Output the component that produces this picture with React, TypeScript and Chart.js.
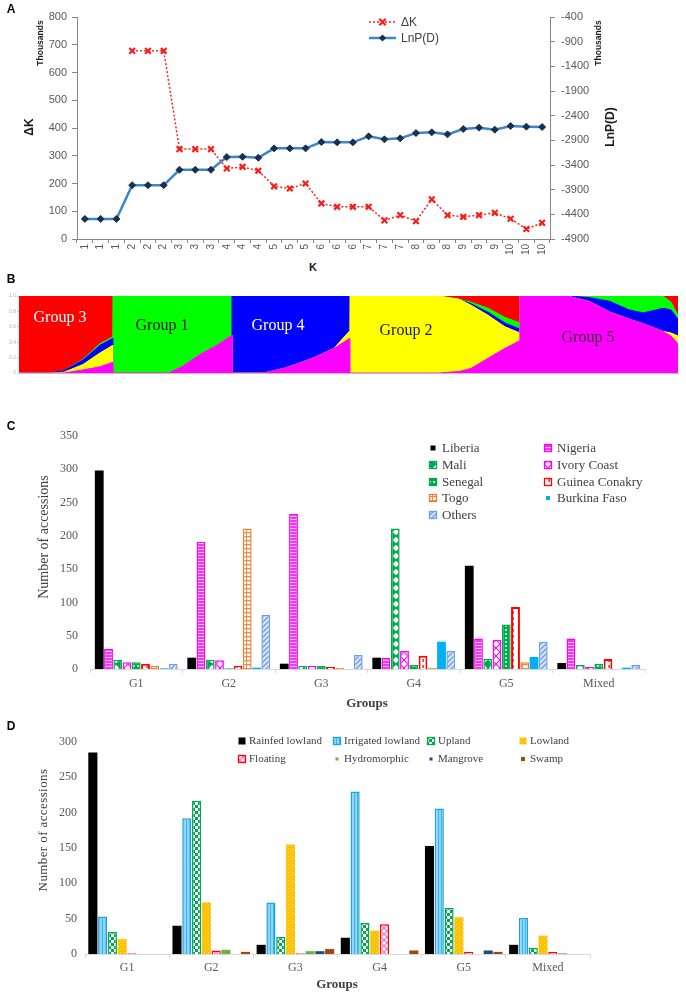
import React, { useEffect, useRef } from 'react';
import { Chart, registerables } from 'chart.js';
Chart.register(...registerables);

// ---------------- Panel A data ----------------
const kLabels = ['1','1','1','2','2','2','3','3','3','4','4','4','5','5','5','6','6','6','7','7','7','8','8','8','9','9','9','10','10','10'];
const deltaK = [null,null,null,678,678,678,324,324,324,254,260,246,190,182,200,128,116,116,116,67,86,64,143,86,80,86,94,73,36,58];
const lnPD = [-4493,-4493,-4493,-3809,-3809,-3809,-3497,-3497,-3497,-3240,-3233,-3253,-3063,-3063,-3063,-2935,-2941,-2941,-2819,-2880,-2860,-2752,-2738,-2779,-2670,-2643,-2684,-2609,-2623,-2630];
const deltaKTicks = [0,100,200,300,400,500,600,700,800];
const lnPTicks = [-4900,-4400,-3900,-3400,-2900,-2400,-1900,-1400,-900,-400];

// ---------------- Panel B data (membership fractions, bottom -> top) ----------------
const structX = [0,30,45,64,81,93.9, 94,150,164,181,198,212.9, 213,245,265,281,297,315,330.9, 331,420,440,452,469,486,500.9, 501,548,570,591,610,624,644,652,659];
const structMagenta = [0,0,0,0.04,0.08,0.14, 0,0,0.09,0.24,0.36,0.49, 0,0,0.06,0.13,0.21,0.32,0.45, 0,0,0.02,0.06,0.19,0.32,0.42, 1,1,0.93,0.79,0.7,0.64,0.54,0.48,0.38];
const structYellow = [0,0,0.01,0.07,0.18,0.22, 0,0,0,0,0,0, 0,0,0,0,0,0,0.1, 1,1,0.94,0.82,0.56,0.28,0.1, 0,0,0,0,0,0,0,0.04,0.1];
const structBlue = [0,0,0.02,0.06,0.1,0.09, 0,0,0,0,0,0, 1,1,0.94,0.87,0.79,0.68,0.45, 0,0,0,0.02,0.04,0.05,0.05, 0,0,0.05,0.14,0.12,0.14,0.3,0.3,0.22];
const structGreen = [0,0,0,0.01,0.02,0.02, 1,1,0.91,0.76,0.64,0.51, 0,0,0,0,0,0,0, 0,0,0,0.02,0.05,0.07,0.08, 0,0,0.02,0.07,0.18,0.22,0.16,0.1,0.05];
const structRed = [1,1,0.97,0.82,0.62,0.53, 0,0,0,0,0,0, 0,0,0,0,0,0,0, 0,0,0.04,0.08,0.16,0.28,0.35, 0,0,0,0,0,0,0,0.08,0.25];
const structTicks = [0,0.2,0.4,0.6,0.8,1];

// ---------------- Panel C data ----------------
const groupLabels = ['G1','G2','G3','G4','G5','Mixed'];
const countries = ['Liberia','Nigeria','Mali','Ivory Coast','Senegal','Guinea Conakry','Togo','Burkina Faso','Others'];
const liberia = [298,17,8,17,155,9];
const nigeria = [30,191,233,17,46,46];
const mali = [14,14,5,211,15,6];
const ivoryCoast = [10,13,5,27,44,3];
const senegal = [10,1,5,6,67,8];
const guineaConakry = [8,5,3,20,93,15];
const togo = [5,211,2,2,10,0];
const burkinaFaso = [1,2,0,41,18,2];
const others = [8,81,21,27,41,6];
const countTicksC = [0,50,100,150,200,250,300,350];

// ---------------- Panel D data ----------------
const ecologies = ['Rainfed lowland','Irrigated lowland','Upland','Lowland','Floating','Hydromorphic','Mangrove','Swamp'];
const rainfedLowland = [285,40,13,23,153,13];
const irrigatedLowland = [53,192,73,230,206,51];
const upland = [31,217,24,44,65,9];
const lowland = [21,73,155,33,52,26];
const floating = [1,5,1,42,3,3];
const hydromorphic = [0,6,4,0,0,1];
const mangrove = [0,0,4,0,5,0];
const swamp = [0,3,7,5,3,0];
const countTicksD = [0,50,100,150,200,250,300];

const SERIF = '"Liberation Serif", "DejaVu Serif", serif';
const SANS = '"Liberation Sans", Arial, sans-serif';

function pat(w: number, h: number, draw: (c: CanvasRenderingContext2D) => void): CanvasPattern {
  const cv = document.createElement('canvas');
  cv.width = w; cv.height = h;
  const c = cv.getContext('2d')!;
  draw(c);
  return c.createPattern(cv, 'repeat')!;
}

const boxLegend = {
  id: 'boxLegend',
  afterDraw(chart: any, _a: any, opts: any) {
    const { ctx } = chart;
    ctx.save();
    ctx.textBaseline = 'middle';
    ctx.font = opts.font;
    chart.data.datasets.forEach((d: any, i: number) => {
      const nc = opts.cols.length;
      const x = opts.cols[i % nc];
      const y = opts.rows[Math.floor(i / nc)];
      const s = opts.sizes[i];
      ctx.fillStyle = d.backgroundColor;
      ctx.fillRect(x - s / 2, y - s / 2, s, s);
      if (d.borderWidth) {
        ctx.strokeStyle = d.borderColor;
        ctx.lineWidth = 1.3;
        ctx.strokeRect(x - s / 2, y - s / 2, s, s);
      }
      ctx.fillStyle = opts.color;
      ctx.fillText(d.label, x + opts.gap, y + 0.5);
    });
    ctx.restore();
  },
};

const lineLegend = {
  id: 'lineLegend',
  afterDraw(chart: any, _a: any, opts: any) {
    const { ctx } = chart;
    ctx.save();
    chart.data.datasets.forEach((d: any, i: number) => {
      const y = opts.rows[i];
      ctx.strokeStyle = d.borderColor;
      ctx.lineWidth = d.borderWidth;
      ctx.setLineDash(d.borderDash || []);
      ctx.beginPath(); ctx.moveTo(opts.x0, y); ctx.lineTo(opts.x1, y); ctx.stroke();
      ctx.setLineDash([]);
      const cx = (opts.x0 + opts.x1) / 2;
      const r = d.pointRadius;
      if (d.pointStyle === 'crossRot') {
        ctx.strokeStyle = d.pointBorderColor; ctx.lineWidth = d.pointBorderWidth;
        const q = r * 0.8;
        ctx.beginPath();
        ctx.moveTo(cx - q, y - q); ctx.lineTo(cx + q, y + q);
        ctx.moveTo(cx + q, y - q); ctx.lineTo(cx - q, y + q);
        ctx.stroke();
      } else {
        ctx.fillStyle = d.pointBackgroundColor;
        ctx.beginPath();
        ctx.moveTo(cx, y - r); ctx.lineTo(cx + r, y); ctx.lineTo(cx, y + r); ctx.lineTo(cx - r, y);
        ctx.closePath(); ctx.fill();
      }
      ctx.fillStyle = opts.color; ctx.font = opts.font; ctx.textBaseline = 'middle';
      ctx.fillText(d.label, opts.textX, y + 0.5);
    });
    ctx.restore();
  },
};

const plainNum = (v: any) => String(v);

function makeA(): any {
  const axisGray = '#868686';
  return {
    type: 'line',
    data: {
      labels: kLabels,
      datasets: [
        { label: 'ΔK', data: deltaK, yAxisID: 'y', borderColor: '#ff2020', borderWidth: 1.5, borderDash: [2, 2],
          pointStyle: 'crossRot', pointRadius: 4, pointBorderWidth: 2.2, pointBorderColor: '#ff1a1a', pointBackgroundColor: '#ff1a1a', fill: false },
        { label: 'LnP(D)', data: lnPD, yAxisID: 'y1', borderColor: '#3b87c9', borderWidth: 2.5,
          pointStyle: 'rectRot', pointRadius: 3.5, pointBackgroundColor: '#1b2f4f', pointBorderColor: '#1b2f4f', pointBorderWidth: 1, fill: false },
      ],
    },
    options: {
      responsive: false, animation: false,
      layout: { padding: { top: 17, left: 0, right: 0, bottom: 0 } },
      plugins: {
        legend: { display: false }, tooltip: { enabled: false },
        lineLegend: { rows: [22, 38], x0: 369, x1: 396, textX: 401, color: '#404040', font: `12px ${SANS}` },
      },
      scales: {
        x: {
          offset: true,
          grid: { offset: true, drawOnChartArea: false, tickLength: 4, color: axisGray },
          border: { color: axisGray },
          ticks: { autoSkip: false, minRotation: 90, maxRotation: 90, padding: 1, color: '#595959', font: { family: SANS, size: 10 } },
          afterFit: (s: any) => { s.height = 21; },
        },
        y: {
          position: 'left', min: 0, max: 800,
          afterBuildTicks: (s: any) => { s.ticks = deltaKTicks.map((v) => ({ value: v })); },
          grid: { drawOnChartArea: false, tickLength: 5, color: axisGray },
          border: { color: axisGray },
          ticks: { padding: 5, color: '#595959', font: { family: SANS, size: 11 }, callback: plainNum },
          afterFit: (s: any) => { s.width = 77; },
        },
        y1: {
          position: 'right', min: -4900, max: -400,
          afterBuildTicks: (s: any) => { s.ticks = lnPTicks.map((v) => ({ value: v })); },
          grid: { drawOnChartArea: false, tickLength: 5, color: axisGray },
          border: { color: axisGray },
          ticks: { padding: 6, color: '#595959', font: { family: SANS, size: 11 }, callback: plainNum },
          afterFit: (s: any) => { s.width = 136; },
        },
      },
    },
    plugins: [lineLegend],
  };
}

function makeB(): any {
  const series: [string, number[], string][] = [
    ['Cluster 5', structMagenta, '#ff00ff'],
    ['Cluster 2', structYellow, '#ffff00'],
    ['Cluster 4', structBlue, '#0000ff'],
    ['Cluster 1', structGreen, '#00ff00'],
    ['Cluster 3', structRed, '#ff0000'],
  ];
  return {
    type: 'line',
    data: {
      datasets: series.map(([label, arr, color], i) => ({
        label,
        data: structX.map((x, j) => ({ x, y: arr[j] })),
        backgroundColor: color, borderColor: color, borderWidth: 1,
        pointRadius: 0, tension: 0, fill: i === 0 ? 'origin' : '-1',
      })),
    },
    options: {
      responsive: false, animation: false,
      layout: { padding: { top: 10, left: 0, right: 8, bottom: 0 } },
      plugins: { legend: { display: false }, tooltip: { enabled: false } },
      scales: {
        x: {
          type: 'linear', min: 0, max: 659,
          ticks: { display: false }, grid: { display: false },
          border: { color: '#bfbfbf' },
          afterFit: (s: any) => { s.height = 7; },
        },
        y: {
          stacked: true, min: 0, max: 1,
          afterBuildTicks: (s: any) => { s.ticks = structTicks.map((v) => ({ value: v })); },
          grid: { drawOnChartArea: false, tickLength: 2, color: '#cccccc' },
          border: { color: '#cccccc' },
          ticks: { padding: 1, color: '#b5b5b5', font: { family: SANS, size: 5 } },
          afterFit: (s: any) => { s.width = 19; },
        },
      },
    },
  };
}

function makeC(): any {
  const green = '#00a84f';
  const fills: any[] = [
    '#000000',
    pat(4, 3, (c) => { c.fillStyle = '#ff2bff'; c.fillRect(0, 0, 4, 3); c.fillStyle = '#ffd6ff'; c.fillRect(0, 2, 4, 1); }),
    pat(8, 8, (c) => { c.fillStyle = green; c.fillRect(0, 0, 8, 8); c.fillStyle = '#ffffff'; c.beginPath(); c.moveTo(4, 0.8); c.lineTo(7.2, 4); c.lineTo(4, 7.2); c.lineTo(0.8, 4); c.closePath(); c.fill(); }),
    pat(8, 8, (c) => { c.fillStyle = '#ffffff'; c.fillRect(0, 0, 8, 8); c.strokeStyle = '#ff00ff'; c.lineWidth = 1.2; c.beginPath(); c.moveTo(0, 0); c.lineTo(8, 8); c.moveTo(8, 0); c.lineTo(0, 8); c.stroke(); }),
    pat(4, 4, (c) => { c.fillStyle = green; c.fillRect(0, 0, 4, 4); c.fillStyle = '#ffffff'; c.beginPath(); c.arc(2, 2, 0.9, 0, Math.PI * 2); c.fill(); }),
    pat(6, 6, (c) => { c.fillStyle = '#ffffff'; c.fillRect(0, 0, 6, 6); c.fillStyle = '#ff0000'; c.fillRect(2.5, 1, 1.3, 3); }),
    pat(6, 4, (c) => { c.fillStyle = '#ffffff'; c.fillRect(0, 0, 6, 4); c.fillStyle = '#f08a40'; c.fillRect(0, 0, 6, 1.3); c.fillRect(0, 0, 1, 4); }),
    '#00b0f0',
    pat(5, 5, (c) => { c.fillStyle = '#dbe6f6'; c.fillRect(0, 0, 5, 5); c.strokeStyle = '#6f9ee6'; c.lineWidth = 1.4; c.beginPath(); c.moveTo(0, 5); c.lineTo(5, 0); c.moveTo(-1, 1); c.lineTo(1, -1); c.moveTo(4, 6); c.lineTo(6, 4); c.stroke(); }),
  ];
  const borders = ['#000000', '#ff00ff', green, '#ff00ff', green, '#ff0000', '#ed7d31', '#00b0f0', '#6d9eeb'];
  const bws = [0, 1.5, 1.5, 1.5, 1.5, 2, 1.5, 0, 1.5];
  const values = [liberia, nigeria, mali, ivoryCoast, senegal, guineaConakry, togo, burkinaFaso, others];
  return {
    type: 'bar',
    data: {
      labels: groupLabels,
      datasets: countries.map((label, i) => ({
        label, data: values[i], backgroundColor: fills[i], borderColor: borders[i], borderWidth: bws[i],
        categoryPercentage: 0.9, barPercentage: 0.95,
      })),
    },
    options: {
      responsive: false, animation: false,
      layout: { padding: { top: 36, left: 0, right: 41, bottom: 0 } },
      plugins: {
        legend: { display: false }, tooltip: { enabled: false },
        boxLegend: { cols: [433, 548], rows: [48, 65, 82, 98, 115], sizes: [5, 7, 7, 7, 7, 7, 7, 4, 7], gap: 9, color: '#404040', font: `13px ${SERIF}` },
      },
      scales: {
        x: {
          grid: { offset: true, drawOnChartArea: false, tickLength: 4, color: '#d9d9d9' },
          border: { color: '#d9d9d9' },
          ticks: { padding: 4, color: '#595959', font: { family: SERIF, size: 12 } },
          afterFit: (s: any) => { s.height = 31; },
        },
        y: {
          min: 0, max: 350,
          afterBuildTicks: (s: any) => { s.ticks = countTicksC.map((v) => ({ value: v })); },
          grid: { display: false, drawTicks: false },
          border: { display: false },
          ticks: { padding: 12, color: '#595959', font: { family: SERIF, size: 12 } },
          afterFit: (s: any) => { s.width = 90; },
        },
      },
    },
    plugins: [boxLegend],
  };
}

function makeD(): any {
  const green = '#00a84f';
  const fills: any[] = [
    '#000000',
    pat(3, 1, (c) => { c.fillStyle = '#8fd6f6'; c.fillRect(0, 0, 3, 1); c.fillStyle = '#3fb4ea'; c.fillRect(0, 0, 1, 1); }),
    pat(6, 6, (c) => { c.fillStyle = '#ffffff'; c.fillRect(0, 0, 6, 6); c.fillStyle = green; c.fillRect(0, 0, 3, 3); c.fillRect(3, 3, 3, 3); }),
    pat(4, 4, (c) => { c.fillStyle = '#ffc000'; c.fillRect(0, 0, 4, 4); c.fillStyle = '#ffe08a'; c.fillRect(0, 0, 1, 1); c.fillRect(2, 2, 1, 1); }),
    pat(6, 6, (c) => { c.fillStyle = '#ffffff'; c.fillRect(0, 0, 6, 6); c.strokeStyle = '#ff66cc'; c.lineWidth = 1.2; c.beginPath(); c.moveTo(0, 0); c.lineTo(6, 6); c.moveTo(6, 0); c.lineTo(0, 6); c.stroke(); }),
    '#70ad47',
    '#1f4e79',
    '#9e480e',
  ];
  const borders = ['#000000', '#1aa3e8', green, '#ffc000', '#ff0000', '#70ad47', '#1f4e79', '#9e480e'];
  const bws = [0, 1.5, 1.5, 0, 1.5, 0, 0, 0];
  const values = [rainfedLowland, irrigatedLowland, upland, lowland, floating, hydromorphic, mangrove, swamp];
  return {
    type: 'bar',
    data: {
      labels: groupLabels,
      datasets: ecologies.map((label, i) => ({
        label, data: values[i], backgroundColor: fills[i], borderColor: borders[i], borderWidth: bws[i],
        categoryPercentage: 0.93, barPercentage: 0.93,
      })),
    },
    options: {
      responsive: false, animation: false,
      layout: { padding: { top: 42, left: 0, right: 96, bottom: 0 } },
      plugins: {
        legend: { display: false }, tooltip: { enabled: false },
        boxLegend: { cols: [242, 337, 431, 523], rows: [41, 59], sizes: [7, 7, 7, 7, 7, 3, 3, 4], gap: 7, color: '#404040', font: `11px ${SERIF}` },
      },
      scales: {
        x: {
          grid: { offset: true, drawOnChartArea: false, tickLength: 4, color: '#d9d9d9' },
          border: { color: '#d9d9d9' },
          ticks: { padding: 3, color: '#595959', font: { family: SERIF, size: 12 } },
          afterFit: (s: any) => { s.height = 26; },
        },
        y: {
          min: 0, max: 300,
          afterBuildTicks: (s: any) => { s.ticks = countTicksD.map((v) => ({ value: v })); },
          grid: { display: false, drawTicks: false },
          border: { display: false },
          ticks: { padding: 8, color: '#595959', font: { family: SERIF, size: 12 } },
          afterFit: (s: any) => { s.width = 85; },
        },
      },
    },
    plugins: [boxLegend],
  };
}

function ChartBox({ left, top, width, height, make }: { left: number; top: number; width: number; height: number; make: () => any }) {
  const ref = useRef<HTMLCanvasElement>(null);
  useEffect(() => {
    const chart = new Chart(ref.current!, make());
    return () => chart.destroy();
  }, []);
  return <canvas ref={ref} width={width} height={height} style={{ position: 'absolute', left, top, width, height }} />;
}

function Txt({ x, y, rot = 0, style, children }: { x: number; y: number; rot?: number; style?: React.CSSProperties; children: React.ReactNode }) {
  return (
    <div style={{ position: 'absolute', left: x, top: y, transform: `translate(-50%, -50%) rotate(${rot}deg)`, whiteSpace: 'nowrap', lineHeight: 1, ...style }}>
      {children}
    </div>
  );
}

export default function App() {
  const panelLetter: React.CSSProperties = { fontFamily: SANS, fontWeight: 700, fontSize: 12, color: '#000' };
  const boldSans: React.CSSProperties = { fontFamily: SANS, fontWeight: 700, color: '#1a1a1a' };
  const groupFont: React.CSSProperties = { fontFamily: SERIF, fontSize: 16 };
  return (
    <div style={{ position: 'absolute', left: 0, top: 0, width: 686, height: 992, background: '#ffffff', overflow: 'hidden' }}>
      <ChartBox left={0} top={0} width={686} height={260} make={makeA} />
      <ChartBox left={0} top={286} width={686} height={94} make={makeB} />
      <ChartBox left={0} top={400} width={686} height={300} make={makeC} />
      <ChartBox left={0} top={700} width={686} height={280} make={makeD} />

      <Txt x={11} y={9} style={panelLetter}>A</Txt>
      <Txt x={40} y={43} rot={-90} style={{ ...boldSans, fontSize: 8.5 }}>Thousands</Txt>
      <Txt x={29} y={127} rot={-90} style={{ ...boldSans, fontSize: 12 }}>ΔK</Txt>
      <Txt x={598} y={43} rot={-90} style={{ ...boldSans, fontSize: 8.5 }}>Thousands</Txt>
      <Txt x={610} y={127} rot={-90} style={{ ...boldSans, fontSize: 12 }}>LnP(D)</Txt>
      <Txt x={313} y={267} style={{ ...boldSans, fontSize: 11 }}>K</Txt>

      <Txt x={11} y={279} style={panelLetter}>B</Txt>
      <Txt x={60} y={317} style={{ ...groupFont, color: '#ffffff' }}>Group 3</Txt>
      <Txt x={162} y={325} style={{ ...groupFont, color: '#1a1a1a' }}>Group 1</Txt>
      <Txt x={278} y={325} style={{ ...groupFont, color: '#ffffff' }}>Group 4</Txt>
      <Txt x={406} y={330} style={{ ...groupFont, color: '#1a1a1a' }}>Group 2</Txt>
      <Txt x={588} y={337} style={{ ...groupFont, color: '#3a0a3a' }}>Group 5</Txt>

      <Txt x={11} y={426} style={panelLetter}>C</Txt>
      <Txt x={44} y={537} rot={-90} style={{ fontFamily: SERIF, fontSize: 14, color: '#404040' }}>Number of accessions</Txt>
      <Txt x={367} y={702} style={{ fontFamily: SERIF, fontSize: 13, fontWeight: 700, color: '#404040' }}>Groups</Txt>

      <Txt x={11} y={726} style={panelLetter}>D</Txt>
      <Txt x={42} y={830} rot={-90} style={{ fontFamily: SERIF, fontSize: 13, color: '#404040', letterSpacing: 0.4 }}>Number of accessions</Txt>
      <Txt x={337} y={983} style={{ fontFamily: SERIF, fontSize: 13, fontWeight: 700, color: '#404040' }}>Groups</Txt>
    </div>
  );
}
